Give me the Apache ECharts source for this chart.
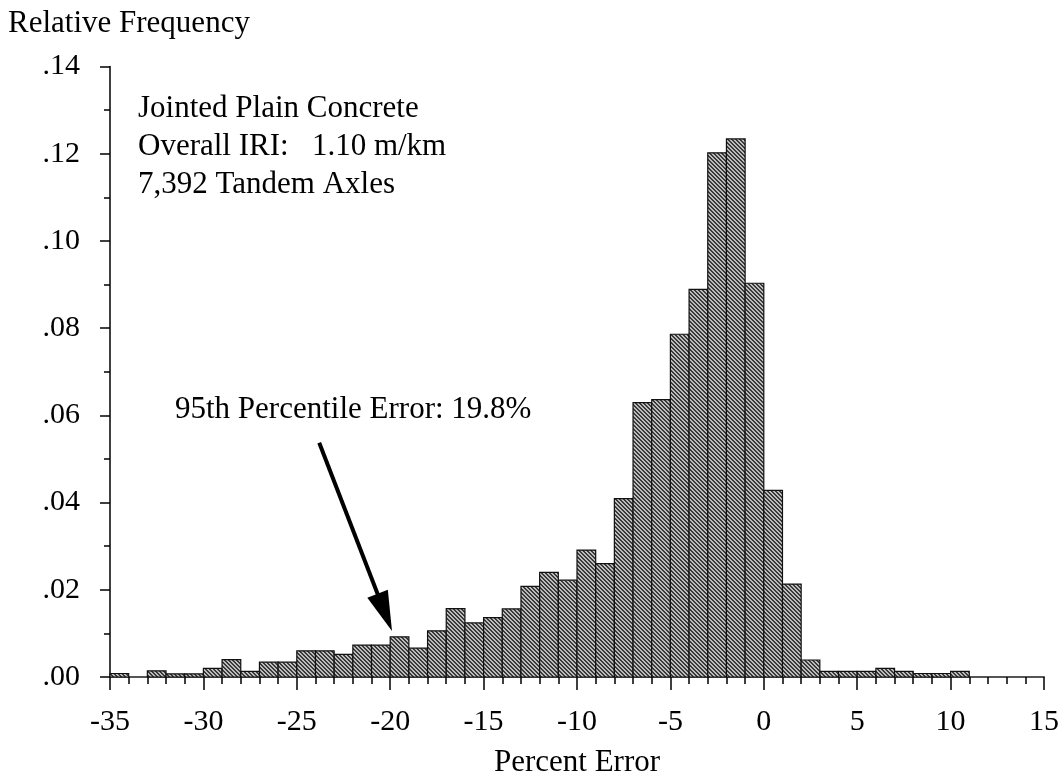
<!DOCTYPE html>
<html>
<head>
<meta charset="utf-8">
<script src="https://cdn.jsdelivr.net/npm/echarts@6/dist/echarts.min.js"></script>
<style>
html,body{margin:0;padding:0;background:#fff;}
#chart{width:1061px;height:777px;}
</style>
</head>
<body>
<div id="chart"></div>
<script>
// Left edges of 1%-wide bins (percent error)
const binStarts = [-35,-34,-33,-32,-31,-30,-29,-28,-27,-26,-25,-24,-23,-22,-21,-20,-19,-18,-17,-16,-15,-14,-13,-12,-11,-10,-9,-8,-7,-6,-5,-4,-3,-2,-1,0,1,2,3,4,5,6,7,8,9,10];
// Relative frequency per bin
const frequencies = [0.0008,0,0.0014,0.0007,0.0007,0.0020,0.0040,0.0013,0.0034,0.0034,0.0060,0.0060,0.0052,0.0073,0.0073,0.0092,0.0066,0.0106,0.0157,0.0124,0.0136,0.0156,0.0208,0.0240,0.0222,0.0291,0.0260,0.0409,0.0629,0.0636,0.0786,0.0889,0.1202,0.1234,0.0903,0.0428,0.0213,0.0039,0.0013,0.0013,0.0013,0.0020,0.0013,0.0008,0.0008,0.0013];
const binWidth = 1;
const xTicks = [-35,-30,-25,-20,-15,-10,-5,0,5,10,15];
const yTicks = [0,0.02,0.04,0.06,0.08,0.10,0.12,0.14];
const annotationLines = ['Jointed Plain Concrete','Overall IRI:   1.10 m/km','7,392 Tandem Axles'];
const arrowLabel = '95th Percentile Error: 19.8%';
const arrowFrom = [-23.8, 0.0537];
const arrowTo = [-20.29, 0.0148];

const FONT = '"Liberation Serif", "Times New Roman", serif';

// hatched fill pattern
const pc = document.createElement('canvas');
pc.width = 4; pc.height = 4;
const g = pc.getContext('2d');
g.fillStyle = '#bcbcbc';
g.fillRect(0,0,4,4);
g.fillStyle = '#3a3a3a';
for (let i = 0; i < 4; i++) { g.fillRect(i, i, 1, 1); g.fillRect((i+1)%4, i, 1, 1); }
const hatch = {image: pc, repeat: 'repeat'};

const data = binStarts.map((s, i) => [s, frequencies[i]]);

const chart = echarts.init(document.getElementById('chart'));
chart.setOption({
  animation: false,
  backgroundColor: '#fff',
  grid: {left: 110, right: 17, top: 66.5, bottom: 100, containLabel: false, outerBoundsMode: 'none'},
  xAxis: {
    type: 'value',
    min: xTicks[0], max: xTicks[xTicks.length-1], interval: 5,
    name: 'Percent Error', nameLocation: 'middle', nameGap: 70,
    nameTextStyle: {fontFamily: FONT, fontSize: 31, color: '#000'},
    axisLine: {show: true, onZero: false, lineStyle: {color: '#555', width: 2}},
    axisTick: {show: true, length: 13, lineStyle: {color: '#000', width: 1.5}},
    minorTick: {show: true, splitNumber: 5, length: 7, lineStyle: {color: '#000', width: 1.5}},
    axisLabel: {margin: 30, fontFamily: FONT, fontSize: 30, color: '#000'},
    splitLine: {show: false}, minorSplitLine: {show: false}
  },
  yAxis: {
    type: 'value',
    min: 0, max: 0.14, interval: 0.02,
    axisLine: {show: true, onZero: false, lineStyle: {color: '#000', width: 1.5}},
    axisTick: {show: true, length: 10, lineStyle: {color: '#000', width: 1.5}},
    minorTick: {show: true, splitNumber: 2, length: 6, lineStyle: {color: '#000', width: 1.5}},
    axisLabel: {margin: 30, fontFamily: FONT, fontSize: 30, color: '#000',
      formatter: v => v.toFixed(2).replace(/^0/, '')},
    splitLine: {show: false}
  },
  graphic: [
    {type: 'text', left: 8, top: 8, style: {text: 'Relative Frequency', font: '31px ' + FONT, fill: '#000'}},
    {type: 'text', left: 138, top: 90, style: {text: annotationLines.join('\n'), font: '31px ' + FONT, fill: '#000', lineHeight: 38}},
    {type: 'text', left: 175, top: 394, style: {text: arrowLabel, font: '31px ' + FONT, fill: '#000'}}
  ],
  series: [{
    type: 'custom',
    data: data,
    encode: {x: 0, y: 1},
    renderItem: function (params, api) {
      const s = api.value(0), v = api.value(1);
      if (!(v > 0)) return;
      const p0 = api.coord([s, v]);
      const p1 = api.coord([s + binWidth, 0]);
      return {
        type: 'rect',
        shape: {x: p0[0], y: p0[1], width: p1[0] - p0[0], height: p1[1] - p0[1]},
        style: {fill: hatch, stroke: '#111', lineWidth: 1.2}
      };
    },
    markLine: {
      silent: true,
      symbol: ['none', 'triangle'],
      symbolSize: [22, 40],
      label: {show: false},
      lineStyle: {color: '#000', width: 4, type: 'solid'},
      data: [[{coord: arrowFrom}, {coord: arrowTo}]]
    },
    z: 2
  }]
});
</script>
</body>
</html>
